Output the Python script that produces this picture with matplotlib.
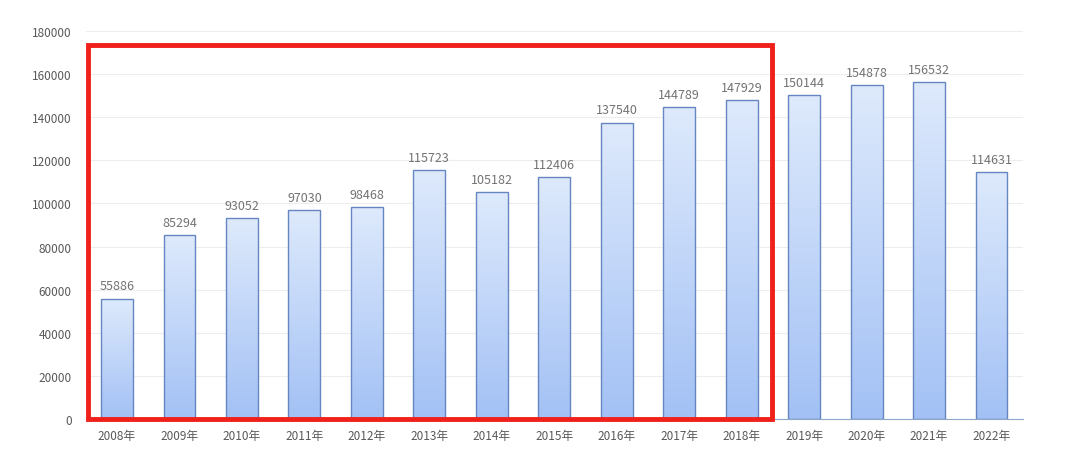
import numpy as np
import matplotlib.pyplot as plt
from matplotlib.patches import Rectangle
from matplotlib.colors import LinearSegmentedColormap

plt.rcParams['font.family'] = ['Noto Sans CJK SC', 'DejaVu Sans']

years = ['2008年', '2009年', '2010年', '2011年', '2012年', '2013年', '2014年', '2015年',
         '2016年', '2017年', '2018年', '2019年', '2020年', '2021年', '2022年']
values = [55886, 85294, 93052, 97030, 98468, 115723, 105182, 112406,
          137540, 144789, 147929, 150144, 154878, 156532, 114631]

fig = plt.figure(figsize=(10.8, 4.52), dpi=100)
ax = fig.add_axes([0.0794, 0.0708, 0.8676, 0.8584])

x = np.arange(len(years))
bars = ax.bar(x, values, width=0.51, color='none', edgecolor='#6586c0', linewidth=1.0, zorder=3)

# vertical gradient inside each bar
cmap = LinearSegmentedColormap.from_list('grad', ['#a3c1f5', '#deeafc'])
grad = np.linspace(0, 1, 256).reshape(-1, 1)
for b in bars:
    im = ax.imshow(grad, cmap=cmap, aspect='auto', origin='lower',
                   extent=[b.get_x(), b.get_x() + b.get_width(), 0, b.get_height()], zorder=2)
    im.set_clip_path(b)

for xi, v in zip(x, values):
    ax.text(xi, v + 2800, str(v), ha='center', va='bottom', fontsize=9, color='#737373')

ax.set_xlim(-0.5, len(years) - 0.5)
ax.set_ylim(0, 180000)
ax.set_yticks(np.arange(0, 180001, 20000))
ax.set_xticks(x)
ax.set_xticklabels(years)
ax.tick_params(axis='both', length=0, labelsize=8.5, labelcolor='#595959')
ax.tick_params(axis='x', pad=7)
ax.tick_params(axis='y', pad=10)
ax.grid(axis='y', color='#ededed', linewidth=0.8, zorder=0)
ax.set_axisbelow(True)
for s in ['top', 'right', 'left']:
    ax.spines[s].set_visible(False)
ax.spines['bottom'].set_color('#8fa6c9')

# red highlight frame
ax.add_patch(Rectangle((-0.47, 0), 10.95, 173500, fill=False, edgecolor='#f0201a',
                       linewidth=3.5, clip_on=False, zorder=5))

fig.savefig('out.png', dpi=100)
